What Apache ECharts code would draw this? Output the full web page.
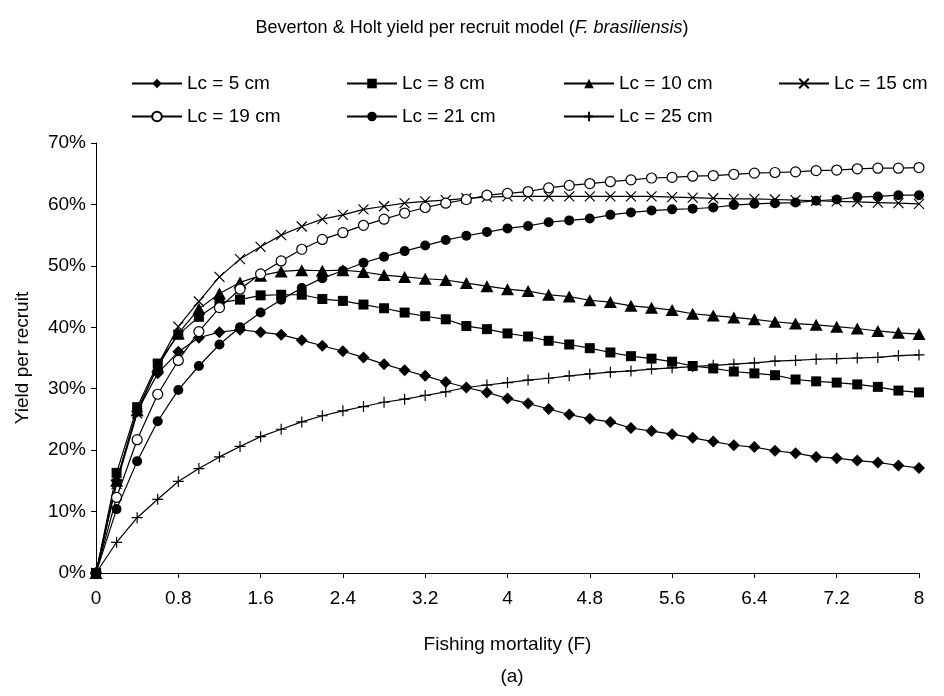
<!DOCTYPE html>
<html>
<head>
<meta charset="utf-8">
<script src="https://cdn.jsdelivr.net/npm/echarts@6/dist/echarts.min.js"></script>
<style>
html,body{margin:0;padding:0;background:#fff;}
#chart{width:944px;height:696px;}
</style>
</head>
<body>
<div id="chart"></div>
<script>
// Fishing mortality F (x values)
var fValues = [0,0.2,0.4,0.6,0.8,1.0,1.2,1.4,1.6,1.8,2.0,2.2,2.4,2.6,2.8,3.0,3.2,3.4,3.6,3.8,4.0,4.2,4.4,4.6,4.8,5.0,5.2,5.4,5.6,5.8,6.0,6.2,6.4,6.6,6.8,7.0,7.2,7.4,7.6,7.8,8.0];
var seriesNames = ['Lc = 5 cm','Lc = 8 cm','Lc = 10 cm','Lc = 15 cm','Lc = 19 cm','Lc = 21 cm','Lc = 25 cm'];
// Yield per recruit (%)
var lc5  = [0,15.0,26.3,32.5,36.0,38.3,39.2,39.6,39.2,38.8,37.9,37.0,36.1,35.1,34.0,33.0,32.1,31.1,30.2,29.4,28.4,27.6,26.7,25.8,25.1,24.6,23.6,23.1,22.6,22.0,21.4,20.8,20.5,19.9,19.5,18.9,18.7,18.3,18.0,17.5,17.1];
var lc8  = [0,16.3,27.0,34.1,38.8,41.7,44.0,44.5,45.2,45.3,45.3,44.6,44.3,43.7,43.1,42.4,41.8,41.3,40.2,39.7,39.0,38.5,37.8,37.2,36.6,35.9,35.3,34.9,34.4,33.7,33.3,32.8,32.5,32.2,31.5,31.2,31.0,30.7,30.3,29.7,29.4];
var lc10 = [0,15.0,26.5,33.6,39.0,43.0,45.5,47.3,48.4,49.1,49.3,49.2,49.3,49.0,48.5,48.2,47.9,47.7,47.2,46.7,46.2,45.9,45.3,45.0,44.4,44.1,43.5,43.2,42.8,42.2,41.9,41.6,41.3,40.9,40.6,40.4,40.1,39.8,39.4,39.1,38.9];
var lc15 = [0,14.5,26.0,33.8,40.1,44.2,48.2,51.1,53.1,55.0,56.4,57.6,58.3,59.2,59.7,60.2,60.5,60.7,61.0,61.2,61.3,61.3,61.3,61.3,61.3,61.3,61.3,61.3,61.2,61.1,61.0,60.9,60.9,60.8,60.7,60.6,60.5,60.4,60.3,60.2,60.1];
var lc19 = [0,12.3,21.7,29.1,34.6,39.3,43.2,46.2,48.7,50.8,52.7,54.3,55.4,56.6,57.6,58.6,59.5,60.2,60.8,61.5,61.8,62.1,62.7,63.1,63.4,63.7,64.0,64.3,64.4,64.6,64.7,64.9,65.1,65.2,65.3,65.5,65.6,65.8,65.9,65.9,66.0];
var lc21 = [0,10.4,18.2,24.7,29.8,33.7,37.2,40.0,42.4,44.5,46.4,48.0,49.2,50.5,51.5,52.4,53.3,54.2,54.9,55.5,56.1,56.5,57.1,57.4,57.7,58.3,58.7,59.0,59.2,59.3,59.5,59.9,60.1,60.2,60.3,60.6,60.8,61.2,61.3,61.5,61.5];
var lc25 = [0,5.0,9.0,12.0,14.9,17.0,18.9,20.6,22.2,23.4,24.6,25.6,26.4,27.1,27.8,28.3,28.9,29.5,30.2,30.6,31.0,31.4,31.7,32.1,32.4,32.7,32.9,33.2,33.4,33.6,33.8,34.0,34.2,34.5,34.6,34.8,34.9,35.0,35.1,35.4,35.5];
var allValues = [lc5, lc8, lc10, lc15, lc19, lc21, lc25];

var FONT = 'Liberation Sans, Arial, sans-serif';
var markerDefs = [
  {symbol:'diamond', size:[12,12], item:{color:'#000', borderWidth:0}},
  {symbol:'rect', size:10, item:{color:'#000', borderWidth:0}},
  {symbol:'triangle', size:[13,12], item:{color:'#000', borderWidth:0}},
  {symbol:'path://M0,0L10,10M10,0L0,10', size:10, item:{color:'rgba(0,0,0,0)', borderColor:'#000', borderWidth:1.2}},
  {symbol:'circle', size:10, item:{color:'#fff', borderColor:'#000', borderWidth:1.2}},
  {symbol:'circle', size:10, item:{color:'#000', borderWidth:0}},
  {symbol:'path://M5,0L5,10M0,5L10,5', size:11, item:{color:'rgba(0,0,0,0)', borderColor:'#000', borderWidth:1.2}}
];

function pairs(vals){ return fValues.map(function(f,i){ return [f, vals[i]]; }); }

var series = seriesNames.map(function(name, k){
  var m = markerDefs[k];
  return {
    name: name, type: 'line', data: pairs(allValues[k]),
    symbol: m.symbol, symbolSize: m.size, showAllSymbol: true,
    lineStyle: {color:'#000', width:1.2},
    itemStyle: m.item,
    emphasis: {disabled:true},
    z: 2 + k
  };
});

var legendLeft = [131, 346, 563, 778];
var legendTop = [74, 107];
var legends = seriesNames.map(function(name, k){
  return {
    data: [name], left: legendLeft[k % 4], top: legendTop[Math.floor(k / 4)],
    padding: 0, itemWidth: 50, itemHeight: 12, itemGap: 0,
    textStyle: {fontFamily: FONT, fontSize: 19, color:'#000'},
    selectedMode: false
  };
});

var chart = echarts.init(document.getElementById('chart'), null, {renderer:'canvas'});
chart.setOption({
  animation: false,
  backgroundColor: '#fff',
  title: [{
    text: 'Beverton & Holt yield per recruit model ({i|F. brasiliensis})',
    left: 'center', top: 14,
    textStyle: {fontFamily: FONT, fontSize: 18, fontWeight: 'normal', color:'#000',
      rich: {i: {fontFamily: FONT, fontSize: 18, fontStyle:'italic', color:'#000'}}}
  }, {
    text: '(a)', left: 507, top: 662, textAlign: 'center',
    textStyle: {fontFamily: FONT, fontSize: 19, fontWeight: 'normal', color:'#000'}
  }],
  legend: legends,
  grid: {left: 96, right: 25, top: 143, bottom: 123},
  xAxis: {
    type: 'value', min: 0, max: 8, interval: 0.8,
    name: 'Fishing mortality (F)', nameLocation: 'middle', nameGap: 62,
    nameTextStyle: {fontFamily: FONT, fontSize: 19, color:'#000'},
    axisLine: {lineStyle: {color:'#000', width:1}},
    axisTick: {show:true, inside:false, length:5, lineStyle:{color:'#000'}},
    axisLabel: {fontFamily: FONT, fontSize: 19, color:'#000', margin: 16,
      formatter: function(v){ return String(+v.toFixed(1)); }},
    splitLine: {show:false}
  },
  yAxis: {
    type: 'value', min: 0, max: 70, interval: 10,
    name: 'Yield per recruit', nameLocation: 'middle', nameGap: 64, nameRotate: 90,
    nameTextStyle: {fontFamily: FONT, fontSize: 19, color:'#000'},
    axisLine: {show:true, lineStyle: {color:'#000', width:1}},
    axisTick: {show:true, inside:false, length:5, lineStyle:{color:'#000'}},
    axisLabel: {fontFamily: FONT, fontSize: 19, color:'#000', margin: 10, formatter: '{value}%'},
    splitLine: {show:false}
  },
  series: series
});
</script>
</body>
</html>
